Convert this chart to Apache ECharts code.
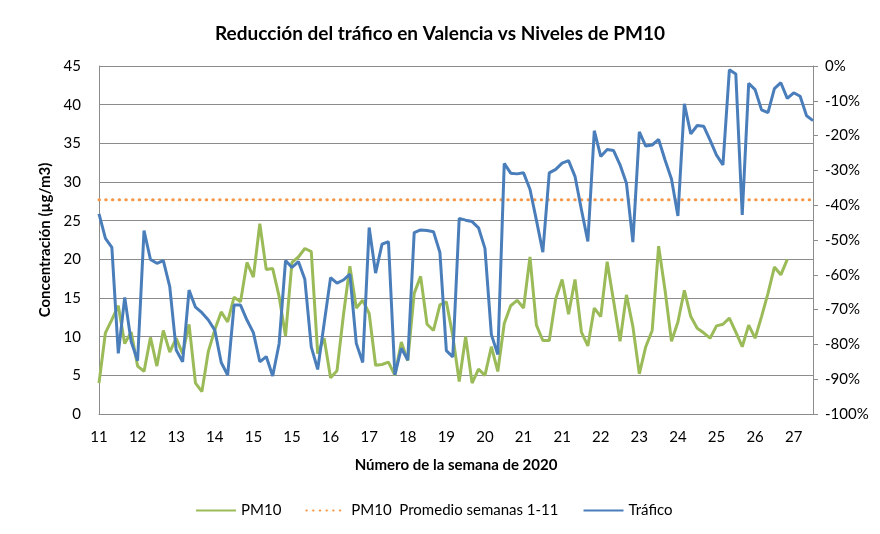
<!DOCTYPE html>
<html>
<head>
<meta charset="utf-8">
<script src="https://cdn.jsdelivr.net/npm/echarts@6/dist/echarts.min.js"></script>
<style>
  html, body { margin: 0; padding: 0; background: #fff; }
  #chart { width: 880px; height: 534px; }
</style>
</head>
<body>
<div id="chart"></div>
<script>
// etiquetas del eje X, una cada 6 días
const weekLabels = ['11', '12', '13', '14', '15', '15', '16', '17', '18', '19', '20', '21', '21', '22', '23', '24', '25', '26', '27']
const labelStep = 6

// PM10 diario (µg/m3)
const pm10 = [
  4.0, 10.5, 12.2, 14.0, 9.1, 10.6, 6.2, 5.5, 9.9, 6.2,
  10.8, 8.0, 9.8, 7.8, 11.6, 4.0, 2.9, 8.1, 10.9, 13.2,
  11.9, 15.1, 14.5, 19.6, 17.7, 24.6, 18.7, 18.8, 15.2, 10.1,
  19.6, 20.3, 21.4, 21.0, 7.8, 9.8, 4.7, 5.6, 12.8, 19.1,
  13.7, 14.7, 13.0, 6.3, 6.4, 6.7, 5.0, 9.3, 6.9, 15.6,
  17.8, 11.6, 10.8, 14.1, 14.5, 10.1, 4.2, 10.0, 4.0, 5.8,
  5.0, 8.7, 5.5, 11.7, 14.0, 14.7, 13.7, 20.3, 11.5, 9.5,
  9.5, 14.9, 17.4, 12.9, 17.4, 10.6, 8.8, 13.7, 12.6, 19.7,
  14.6, 9.4, 15.4, 11.3, 5.2, 8.7, 10.8, 21.7, 16.0, 9.4,
  11.9, 16.0, 12.6, 11.1, 10.5, 9.8, 11.4, 11.6, 12.4, 10.6,
  8.7, 11.5, 9.8, 12.6, 15.6, 19.0, 18.0, 20.0
]

// PM10 promedio semanas 1-11
const pm10Avg = 27.7

// reducción del tráfico (%)
const trafico = [
  -42.5, -49.5, -52.1, -82.6, -66.5, -79.2, -84.7, -47.3, -55.6, -56.7,
  -55.9, -63.4, -81.6, -85.0, -64.4, -69.3, -70.9, -73.0, -75.9, -85.2,
  -88.8, -68.7, -68.7, -73.0, -76.6, -85.0, -83.5, -89.1, -79.8, -55.9,
  -57.9, -56.2, -61.3, -80.7, -87.2, -74.0, -60.8, -62.4, -61.5, -59.8,
  -79.7, -85.2, -46.4, -59.5, -51.2, -50.5, -88.8, -81.1, -84.5, -47.9,
  -47.1, -47.3, -47.6, -53.6, -81.8, -83.6, -43.8, -44.3, -44.7, -46.5,
  -52.4, -77.2, -82.9, -28.0, -30.8, -31.0, -30.7, -35.4, -44.3, -53.5,
  -30.7, -29.7, -27.9, -27.2, -31.7, -41.3, -50.4, -18.6, -26.0, -24.0,
  -24.3, -28.4, -33.7, -50.6, -18.9, -23.0, -22.7, -21.1, -27.0, -32.5,
  -43.1, -10.9, -19.5, -17.1, -17.3, -21.3, -25.6, -28.4, -1.1, -2.3,
  -42.8, -5.0, -6.8, -12.6, -13.4, -6.5, -4.8, -9.3, -7.7, -8.7,
  -14.3, -15.7
]

const days = trafico.map((v, i) => String(i))
const avgLine = days.map(() => pm10Avg)

const font = 'Lato, "Open Sans", sans-serif'
const gridColor = '#8c8c8c'

let mycharts = echarts.init(document.getElementById('chart'))
mycharts.setOption({
  animation: false,
  textStyle: { fontFamily: font },
  title: {
    text: 'Reducción del tráfico en Valencia vs Niveles de PM10',
    left: 'center',
    top: 19,
    textStyle: { fontSize: 19, fontWeight: 'bold', color: '#000', fontFamily: font }
  },
  grid: { left: 99, right: 67, top: 66, bottom: 120 },
  legend: {
    left: 190,
    bottom: 11,
    itemWidth: 40,
    itemHeight: 10,
    itemGap: 24,
    itemStyle: { opacity: 0 },
    textStyle: { fontSize: 15, color: '#000', fontFamily: font },
    data: ['PM10', 'PM10  Promedio semanas 1-11', 'Tráfico']
  },
  xAxis: {
    type: 'category',
    boundaryGap: false,
    data: days,
    name: 'Número de la semana de 2020',
    nameLocation: 'middle',
    nameGap: 44,
    nameTextStyle: { fontSize: 15, fontWeight: 'bold', color: '#000', fontFamily: font },
    axisLine: { lineStyle: { color: gridColor } },
    axisTick: { show: false },
    axisLabel: {
      interval: labelStep - 1,
      margin: 16,
      fontSize: 15,
      color: '#000',
      formatter: (v, idx) => weekLabels[idx / labelStep] || ''
    },
    splitLine: { show: false }
  },
  yAxis: [
    {
      type: 'value',
      min: 0,
      max: 45,
      interval: 5,
      name: 'Concentración (µg/m3)',
      nameLocation: 'middle',
      nameGap: 41,
      nameTextStyle: { fontSize: 15, fontWeight: 'bold', color: '#000', fontFamily: font },
      axisLine: { show: true, lineStyle: { color: gridColor } },
      axisTick: { show: false },
      axisLabel: { fontSize: 15, color: '#000', margin: 18 },
      splitLine: { lineStyle: { color: gridColor, width: 1 } }
    },
    {
      type: 'value',
      min: -100,
      max: 0,
      interval: 10,
      position: 'right',
      axisLine: { show: true, lineStyle: { color: gridColor } },
      axisTick: { show: true, length: 5, lineStyle: { color: gridColor } },
      axisLabel: { fontSize: 15, color: '#000', margin: 12, formatter: '{value}%' },
      splitLine: { show: false }
    }
  ],
  series: [
    {
      name: 'PM10',
      type: 'line',
      yAxisIndex: 0,
      data: pm10,
      symbol: 'none',
      lineStyle: { color: '#9bbb59', width: 3 },
      itemStyle: { color: '#9bbb59' },
      z: 3
    },
    {
      name: 'PM10  Promedio semanas 1-11',
      type: 'line',
      yAxisIndex: 0,
      data: avgLine,
      symbol: 'none',
      lineStyle: { color: '#f79646', width: 3, type: [0.5, 6.2], cap: 'round' },
      itemStyle: { color: '#f79646' },
      z: 2
    },
    {
      name: 'Tráfico',
      type: 'line',
      yAxisIndex: 1,
      data: trafico,
      symbol: 'none',
      lineStyle: { color: '#4a7ebb', width: 3 },
      itemStyle: { color: '#4a7ebb' },
      z: 4
    }
  ]
})
mycharts.resize()
</script>
</body>
</html>
